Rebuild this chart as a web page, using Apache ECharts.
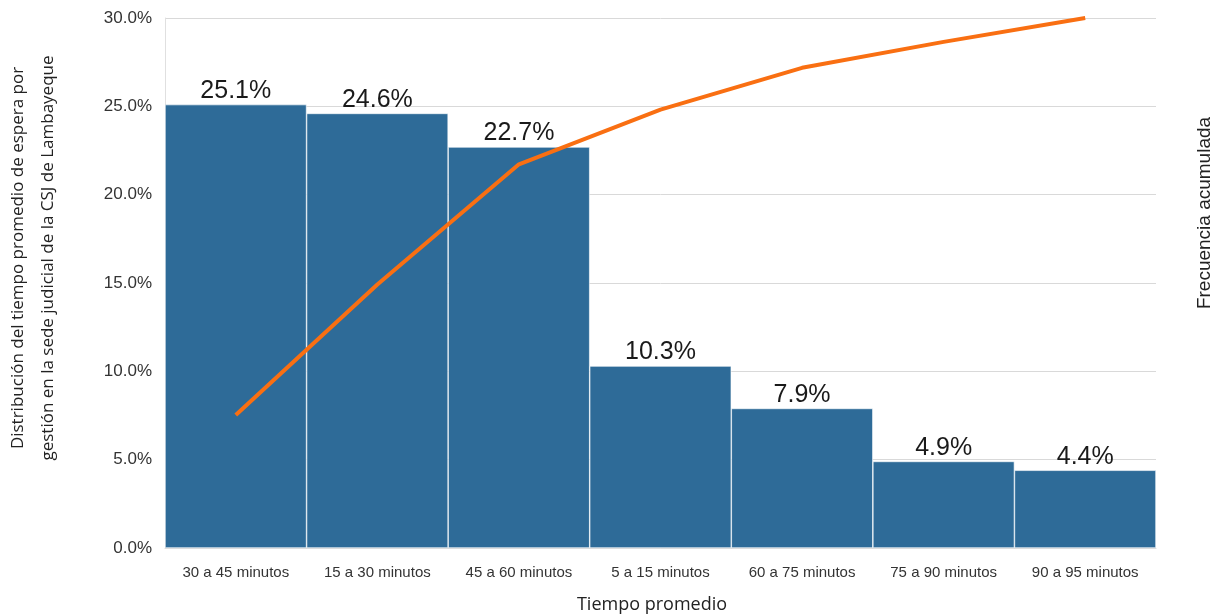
<!DOCTYPE html>
<html>
<head>
<meta charset="utf-8">
<script src="https://cdn.jsdelivr.net/npm/echarts@6/dist/echarts.min.js"></script>
<style>
  html, body { margin: 0; padding: 0; background: #fff; }
  #chart { width: 1215px; height: 616px; }
</style>
</head>
<body>
<div id="chart"></div>
<script>
const categories = [
  "30 a 45 minutos", "15 a 30 minutos", "45 a 60 minutos", "5 a 15 minutos",
  "60 a 75 minutos", "75 a 90 minutos", "90 a 95 minutos"
];
const porcentaje = [25.1, 24.6, 22.7, 10.3, 7.9, 4.9, 4.4];
const acumulado = [25.1, 49.7, 72.4, 82.7, 90.6, 95.5, 100];

const arial = "'Liberation Sans', Arial, sans-serif";
const myChart = echarts.init(document.getElementById("chart"));
const option = {
  animation: false,
  grid: { left: 165, right: 59, top: 18, bottom: 68 },
  xAxis: {
    type: "category",
    data: categories,
    axisTick: { show: false },
    axisLine: { lineStyle: { color: "#d9d9d9", width: 1 } },
    axisLabel: {
      color: "#333",
      fontSize: 15,
      fontFamily: arial,
      margin: 17,
    },
  },
  yAxis: [
    {
      type: "value",
      min: 0,
      max: 30,
      interval: 5,
      axisLine: { show: true, lineStyle: { color: "#e0e0e0" } },
      axisTick: { show: false },
      splitLine: { lineStyle: { color: "#d9d9d9" } },
      axisLabel: {
        color: "#333",
        fontSize: 17,
        fontFamily: arial,
        margin: 13,
        formatter: (v) => v.toFixed(1) + "%",
      },
    },
    {
      type: "value",
      min: 0,
      max: 100,
      show: false,
    },
  ],
  series: [
    {
      type: "bar",
      data: porcentaje,
      barWidth: "100%",
      itemStyle: { color: "#2e6b98", borderColor: "#ffffff", borderWidth: 0.6 },
      label: {
        show: true,
        position: "top",
        distance: 1,
        color: "#1a1a1a",
        fontSize: 25,
        fontFamily: arial,
        formatter: (p) => p.value.toFixed(1) + "%",
      },
    },
    {
      type: "line",
      yAxisIndex: 1,
      data: acumulado,
      symbol: "none",
      lineStyle: { color: "#f96f12", width: 4 },
      z: 5,
    },
  ],
  graphic: [
    {
      type: "text",
      x: 33,
      y: 258,
      rotation: Math.PI / 2,
      style: {
        text: "Distribución del tiempo promedio de espera por\ngestión en la sede judicial de la CSJ de Lambayeque",
        font: "17px 'Open Sans'",
        fill: "#222",
        align: "center",
        verticalAlign: "middle",
        lineHeight: 30,
      },
    },
    {
      type: "text",
      x: 1205,
      y: 213,
      rotation: Math.PI / 2,
      style: {
        text: "Frecuencia acumulada",
        font: "19px 'Liberation Sans'",
        fill: "#222",
        align: "center",
        verticalAlign: "middle",
      },
    },
    {
      type: "text",
      x: 652,
      y: 605,
      style: {
        text: "Tiempo promedio",
        font: "18px 'Open Sans'",
        fill: "#222",
        align: "center",
        verticalAlign: "middle",
      },
    },
  ],
};
myChart.setOption(option);
window.addEventListener("resize", () => myChart.resize());
</script>
</body>
</html>
